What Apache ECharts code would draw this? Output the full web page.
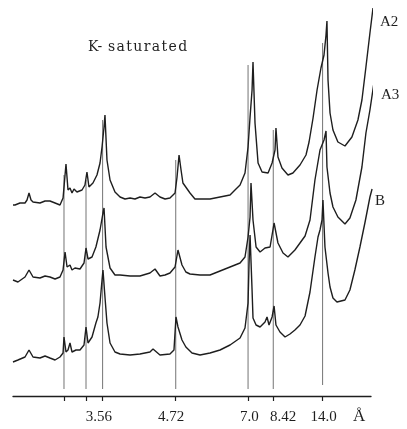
<!DOCTYPE html>
<html>
<head>
<meta charset="utf-8">
<style>
  html, body { margin: 0; padding: 0; background: #fff; }
  #chart { width: 407px; height: 429px; }
</style>
<script src="https://cdn.jsdelivr.net/npm/echarts@6/dist/echarts.min.js"></script>
</head>
<body>
<div id="chart"></div>
<script>
// XRD traces, K-saturated. x = 2-theta (deg, Cu Ka), y = offset intensity (arbitrary)
const traceA2 = [
  [32.60, 191], [32.43, 191], [32.01, 193], [31.58, 193], [31.41, 196], [31.24, 203], [31.07, 196],
  [30.90, 194], [30.31, 193], [29.88, 195], [29.46, 195], [29.03, 193], [28.61, 191], [28.35, 198],
  [28.18, 221], [28.10, 232], [27.93, 206], [27.76, 208], [27.59, 203], [27.42, 207], [27.17, 204],
  [26.74, 206], [26.49, 211], [26.32, 224], [26.15, 209], [25.81, 213], [25.47, 221], [25.21, 233],
  [25.04, 249], [24.87, 269], [24.79, 281], [24.62, 236], [24.36, 216], [23.94, 204], [23.51, 199],
  [23.09, 197], [22.66, 198], [22.24, 197], [21.82, 199], [21.39, 198], [20.97, 199], [20.54, 203],
  [20.12, 199], [19.69, 197], [19.27, 198], [18.84, 203], [18.67, 219], [18.50, 241], [18.33, 226],
  [18.17, 213], [17.57, 203], [17.15, 197], [16.72, 197], [15.87, 197], [15.02, 199], [14.17, 201],
  [13.75, 206], [13.32, 211], [12.90, 223], [12.64, 249], [12.47, 279], [12.30, 306], [12.22, 334],
  [12.05, 273], [11.79, 233], [11.45, 224], [10.94, 223], [10.60, 233], [10.35, 246], [10.27, 268],
  [10.10, 239], [9.76, 228], [9.25, 221], [8.83, 223], [8.23, 231], [7.72, 241], [7.46, 254],
  [7.12, 278], [6.78, 306], [6.45, 328], [6.19, 341], [6.02, 361], [5.94, 375], [5.85, 316],
  [5.68, 283], [5.43, 266], [5.01, 254], [4.41, 250], [3.82, 259], [3.31, 276], [2.97, 296],
  [2.63, 329], [2.29, 363], [2.03, 388]
];
const traceA3 = [
  [32.60, 116], [32.18, 114], [31.58, 119], [31.24, 126], [30.90, 119], [30.31, 118], [29.88, 120],
  [29.46, 119], [29.03, 117], [28.61, 119], [28.35, 126], [28.18, 144], [28.01, 129], [27.76, 131],
  [27.59, 126], [27.34, 128], [26.91, 127], [26.57, 133], [26.40, 148], [26.23, 137], [25.89, 139],
  [25.56, 149], [25.21, 166], [24.96, 183], [24.87, 188], [24.70, 149], [24.36, 128], [23.94, 121],
  [23.51, 121], [22.66, 120], [21.82, 120], [20.97, 123], [20.54, 127], [20.12, 120], [19.69, 121],
  [19.27, 123], [18.84, 129], [18.59, 146], [18.25, 131], [17.92, 124], [17.57, 122], [16.72, 121],
  [15.87, 121], [15.02, 125], [14.17, 129], [13.32, 133], [12.90, 139], [12.64, 159], [12.47, 179],
  [12.39, 213], [12.22, 176], [11.96, 149], [11.62, 144], [11.20, 148], [10.77, 149], [10.43, 173],
  [10.10, 153], [9.67, 143], [9.25, 139], [8.66, 146], [8.23, 153], [7.80, 160], [7.38, 176],
  [6.96, 216], [6.53, 246], [6.19, 256], [6.02, 265], [5.94, 229], [5.68, 203], [5.43, 189],
  [5.01, 179], [4.41, 172], [3.99, 178], [3.48, 196], [2.97, 229], [2.63, 263], [2.29, 286],
  [1.94, 314]
];
const traceB = [
  [32.60, 34], [32.18, 36], [31.58, 39], [31.24, 46], [30.90, 39], [30.31, 38], [29.88, 40],
  [29.46, 38], [29.03, 36], [28.61, 39], [28.35, 43], [28.27, 59], [28.10, 44], [27.93, 46],
  [27.76, 53], [27.59, 44], [27.25, 46], [26.91, 46], [26.57, 51], [26.40, 69], [26.23, 53],
  [25.89, 59], [25.56, 73], [25.39, 79], [25.21, 93], [25.04, 116], [24.96, 126], [24.79, 99],
  [24.62, 73], [24.36, 53], [23.94, 44], [23.51, 42], [22.66, 41], [21.82, 42], [20.97, 44],
  [20.71, 47], [20.12, 41], [19.27, 42], [18.93, 46], [18.76, 79], [18.59, 69], [18.25, 56],
  [17.92, 49], [17.40, 43], [16.72, 41], [15.87, 43], [15.02, 46], [14.17, 51], [13.32, 58],
  [12.90, 68], [12.64, 93], [12.56, 131], [12.47, 161], [12.30, 106], [12.22, 78], [11.96, 71],
  [11.62, 69], [11.20, 74], [11.03, 79], [10.86, 71], [10.60, 79], [10.43, 90], [10.27, 71],
  [9.93, 64], [9.50, 59], [9.08, 62], [8.66, 66], [8.23, 71], [7.80, 80], [7.38, 104],
  [6.96, 139], [6.70, 159], [6.53, 166], [6.36, 176], [6.28, 196], [6.11, 149], [5.85, 123],
  [5.68, 109], [5.43, 98], [5.09, 94], [4.41, 96], [3.99, 106], [3.57, 126], [3.14, 149],
  [2.72, 173], [2.29, 199], [2.11, 207]
];

// d-spacing reference lines / ticks (2-theta position), labels in Angstrom
const tickPos = [28.27, 26.40, 24.99, 18.78, 12.64, 10.50, 6.31];
const refTop = [221, 216, 276, 236, 331, 266, 353];
const refBottom = [7, 7, 7, 7, 7, 7, 11];
const labelPos = [25.30, 19.18, 12.52, 9.67, 6.23];
const labelText = ['3.56', '4.72', '7.0', '8.42', '14.0'];

const chart = echarts.init(document.getElementById('chart'));

const ink = '#1e1e1e';
const series = [];
tickPos.forEach((x, i) => {
  series.push({
    type: 'line',
    data: [[x, refTop[i]], [x, refBottom[i]]],
    symbol: 'none',
    silent: true,
    z: 1,
    lineStyle: { color: '#747474', width: 1 }
  });
});
[['A2', traceA2], ['A3', traceA3], ['B', traceB]].forEach(([name, d]) => {
  series.push({
    name: name,
    type: 'line',
    data: d,
    symbol: 'none',
    clip: false,
    z: 3,
    lineStyle: { color: ink, width: 1.4 }
  });
});

const serif = 'Liberation Serif';
const option = {
  backgroundColor: '#fff',
  animation: false,
  grid: { left: 13, right: 36, top: 0, bottom: 33 },
  xAxis: {
    type: 'value',
    min: 2.2,
    max: 32.6,
    inverse: true,
    splitLine: { show: false },
    axisLine: { lineStyle: { color: ink, width: 1.3 } },
    axisTick: { customValues: tickPos, length: 5, lineStyle: { color: ink, width: 1.2 } },
    axisLabel: {
      customValues: labelPos,
      margin: 14,
      color: ink,
      fontFamily: serif,
      fontSize: 15,
      formatter: (v) => {
        const i = labelPos.findIndex(p => Math.abs(p - v) < 0.01);
        return i >= 0 ? labelText[i] : '';
      }
    }
  },
  yAxis: { type: 'value', min: 0, max: 396, show: false },
  graphic: [
    { type: 'text', left: 88, top: 40, style: { text: 'K-\u200As\u200Aa\u200At\u200Au\u200Ar\u200Aa\u200At\u200Ae\u200Ad'.replace('-', '- '), font: '14px "DejaVu Serif"', fill: ink } },
    { type: 'text', left: 380, top: 15, style: { text: 'A2', font: '15px "Liberation Serif"', fill: ink } },
    { type: 'text', left: 381, top: 88, style: { text: 'A3', font: '15px "Liberation Serif"', fill: ink } },
    { type: 'text', left: 375, top: 194, style: { text: 'B', font: '15px "Liberation Serif"', fill: ink } },
    { type: 'text', left: 353, top: 408, style: { text: 'Å', font: '17px "Liberation Serif"', fill: ink } }
  ],
  series: series
};
chart.setOption(option);
</script>
</body>
</html>
